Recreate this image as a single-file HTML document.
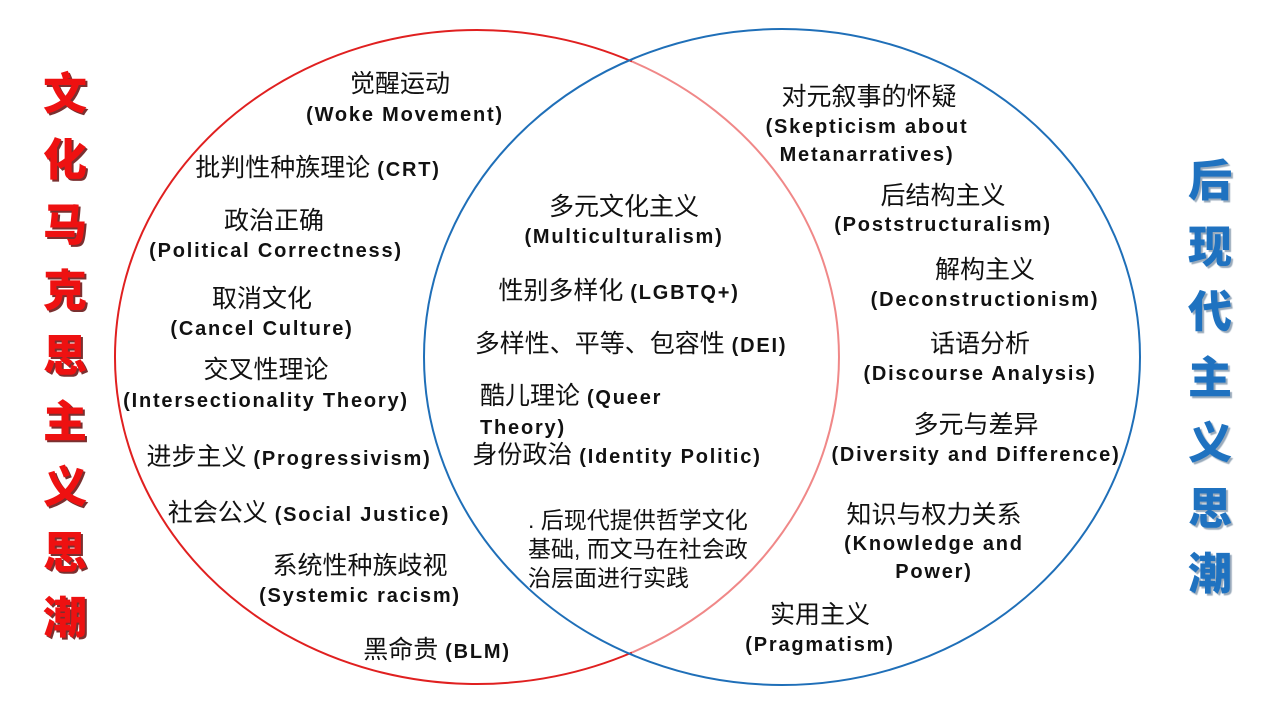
<!DOCTYPE html>
<html><head><meta charset="utf-8"><style>
body{margin:0;width:1280px;height:720px;background:#fff;position:relative;overflow:hidden;font-family:"Liberation Sans","Noto Sans CJK SC",sans-serif;}
.t{position:absolute;transform:translateX(-50%);text-align:center;white-space:nowrap;color:#111;line-height:28px;}
.c{font-size:25px;}
.e{font-size:20px;font-weight:bold;letter-spacing:1.8px;}
.v{position:absolute;font-weight:900;font-size:44px;line-height:65.5px;width:54px;text-align:center;font-family:"Noto Sans CJK SC",sans-serif;}
</style></head><body>
<svg width="1280" height="720" style="position:absolute;left:0;top:0">
<path d="M632 61.5 A362 327 0 1 0 632 652.5" fill="none" stroke="#e02020" stroke-width="2"/>
<ellipse cx="782" cy="357" rx="358" ry="328" fill="none" stroke="#1f6fb8" stroke-width="2"/>
<path d="M632 61.5 A362 327 0 0 1 632 652.5" fill="none" stroke="#f08888" stroke-width="2"/>
</svg>
<div class="v" style="left:38px;top:58px;color:#ee1111;text-shadow:2px 2px 0 #7a3030;">文<br>化<br>马<br>克<br>思<br>主<br>义<br>思<br>潮</div>
<div class="v" style="left:1183px;top:145px;color:#1f72c0;text-shadow:2px 2px 1px #9ab;">后<br>现<br>代<br>主<br>义<br>思<br>潮</div>

<div class="t c" style="left:400px;top:70px">觉醒运动</div>
<div class="t e" style="left:405px;top:101px">(Woke Movement)</div>
<div class="t" style="left:318px;top:154px"><span class="c">批判性种族理论 </span><span class="e">(CRT)</span></div>
<div class="t c" style="left:274px;top:207px">政治正确</div>
<div class="t e" style="left:276px;top:237px">(Political Correctness)</div>
<div class="t c" style="left:262px;top:285px">取消文化</div>
<div class="t e" style="left:262px;top:315px">(Cancel Culture)</div>
<div class="t c" style="left:266px;top:356px">交叉性理论</div>
<div class="t e" style="left:266px;top:387px">(Intersectionality Theory)</div>
<div class="t" style="left:289px;top:443px"><span class="c">进步主义 </span><span class="e">(Progressivism)</span></div>
<div class="t" style="left:309px;top:499px"><span class="c">社会公义 </span><span class="e">(Social Justice)</span></div>
<div class="t c" style="left:360px;top:552px">系统性种族歧视</div>
<div class="t e" style="left:360px;top:582px">(Systemic racism)</div>
<div class="t" style="left:437px;top:636px"><span class="c">黑命贵 </span><span class="e">(BLM)</span></div>

<div class="t c" style="left:624px;top:193px">多元文化主义</div>
<div class="t e" style="left:624px;top:223px">(Multiculturalism)</div>
<div class="t" style="left:619px;top:277px"><span class="c">性别多样化 </span><span class="e">(LGBTQ+)</span></div>
<div class="t" style="left:631px;top:330px"><span class="c">多样性、平等、包容性 </span><span class="e">(DEI)</span></div>
<div class="t" style="left:480px;top:382px;transform:none;text-align:left"><span class="c">酷儿理论 </span><span class="e">(Queer<br>Theory)</span></div>
<div class="t" style="left:617px;top:441px"><span class="c">身份政治 </span><span class="e">(Identity Politic)</span></div>
<div class="t c" style="left:528px;top:506px;transform:none;text-align:left;font-size:23px;line-height:29px">. 后现代提供哲学文化<br>基础, 而文马在社会政<br>治层面进行实践</div>

<div class="t c" style="left:869px;top:83px">对元叙事的怀疑</div>
<div class="t e" style="left:867px;top:113px;line-height:28px">(Skepticism about<br>Metanarratives)</div>
<div class="t c" style="left:943px;top:182px">后结构主义</div>
<div class="t e" style="left:943px;top:211px">(Poststructuralism)</div>
<div class="t c" style="left:985px;top:256px">解构主义</div>
<div class="t e" style="left:985px;top:286px">(Deconstructionism)</div>
<div class="t c" style="left:980px;top:330px">话语分析</div>
<div class="t e" style="left:980px;top:360px">(Discourse Analysis)</div>
<div class="t c" style="left:976px;top:411px">多元与差异</div>
<div class="t e" style="left:976px;top:441px">(Diversity and Difference)</div>
<div class="t c" style="left:934px;top:501px">知识与权力关系</div>
<div class="t e" style="left:934px;top:530px;line-height:28px">(Knowledge and<br>Power)</div>
<div class="t c" style="left:820px;top:601px">实用主义</div>
<div class="t e" style="left:820px;top:631px">(Pragmatism)</div>
</body></html>
